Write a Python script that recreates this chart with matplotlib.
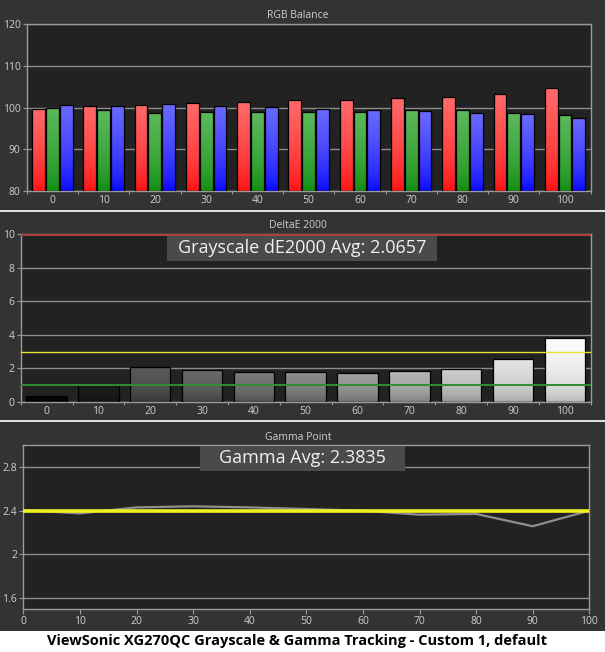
import numpy as np
import matplotlib
matplotlib.use("Agg")
import matplotlib.pyplot as plt
from matplotlib.patches import Rectangle
from matplotlib.lines import Line2D
from matplotlib.colors import to_rgb

# ---------------- data ----------------
levels = [0, 10, 20, 30, 40, 50, 60, 70, 80, 90, 100]
level_labels = [str(v) for v in levels]

red_vals = [99.76, 100.4, 100.63, 101.1, 101.42, 101.9, 101.9, 102.37, 102.6, 103.3, 104.74]
green_vals = [100.0, 99.29, 98.58, 98.81, 98.81, 98.97, 98.97, 99.29, 99.29, 98.74, 98.1]
blue_vals = [100.63, 100.4, 100.87, 100.4, 100.16, 99.53, 99.29, 99.05, 98.58, 98.34, 97.47]

de2000_vals = [0.33, 1.10, 2.11, 1.91, 1.81, 1.81, 1.75, 1.85, 1.99, 2.58, 3.82]
de_good = 1.0
de_warn = 3.0
de_max = 10.0

gamma_vals = [2.405, 2.375, 2.43, 2.44, 2.43, 2.415, 2.40, 2.363, 2.37, 2.257, 2.40]
gamma_target = 2.4

rgb_ticks = [80, 90, 100, 110, 120]
de_ticks = [0, 2, 4, 6, 8, 10]
gamma_ticks = [1.6, 2.0, 2.4, 2.8]
gamma_tick_labels = ["1.6", "2", "2.4", "2.8"]

de_avg_text = "Grayscale dE2000 Avg: 2.0657"
gamma_avg_text = "Gamma Avg: 2.3835"
titles = ["RGB Balance", "DeltaE 2000", "Gamma Point"]
caption = "ViewSonic XG270QC Grayscale & Gamma Tracking - Custom 1, default"

# ---------------- style ----------------
plt.rcParams['font.family'] = ['Open Sans', 'DejaVu Sans']
FIG_BG = '#333333'
AX_BG = '#222222'
GRID = '#8c8c8c'
SPINE = '#9a9a9a'
TXT = '#cfcfcf'
W, H = 605, 652

fig = plt.figure(figsize=(W / 100, H / 100), dpi=100)
fig.patch.set_facecolor(FIG_BG)


def frac_axes(l, t, r, b):
    return fig.add_axes([l / W, 1 - b / H, (r - l) / W, (b - t) / H])


def style_axes(ax):
    ax.set_facecolor(AX_BG)
    for s in ax.spines.values():
        s.set_color(SPINE)
        s.set_linewidth(1.0)
    ax.tick_params(colors=SPINE, labelcolor=TXT, labelsize=7.5, length=3, width=0.8, pad=1.5)


def gradient_bars(ax, x, heights, width, base, top_cols, bot_cols, power=1.0):
    hts = np.asarray(heights) - base
    bars = ax.bar(x, hts, width, bottom=base, facecolor='none',
                  edgecolor='black', linewidth=0.9, zorder=3)
    t = np.linspace(0, 1, 256)[:, None, None] ** power
    for b, tc, bc in zip(bars, top_cols, bot_cols):
        x0, y0, w, h = b.get_x(), b.get_y(), b.get_width(), b.get_height()
        tc_a = np.array(to_rgb(tc))[None, None, :]
        bc_a = np.array(to_rgb(bc))[None, None, :]
        img = bc_a * (1 - t) + tc_a * t
        im = ax.imshow(img, extent=[x0, x0 + w, y0, y0 + h], origin='lower',
                       aspect='auto', zorder=2.5, interpolation='bilinear')
        im.set_clip_path(b)
    return bars


n = len(levels)
xpos = np.arange(n)

# ---------------- panel 1: RGB balance ----------------
ax1 = frac_axes(26.7, 24, 590.7, 191)
style_axes(ax1)
off = 0.27
bw = 0.25
gradient_bars(ax1, xpos - off, red_vals, bw, 80, ['#ff6a6a'] * n, ['#ff0a0a'] * n, power=0.6)
gradient_bars(ax1, xpos, green_vals, bw, 80, ['#5cb85c'] * n, ['#0b8a0b'] * n, power=0.6)
gradient_bars(ax1, xpos + off, blue_vals, bw, 80, ['#6a6aff'] * n, ['#0000ff'] * n, power=0.6)
ax1.set_ylim(80, 120)
ax1.set_xlim(-0.5, n - 0.5)
ax1.set_yticks(rgb_ticks)
ax1.yaxis.grid(True, color=GRID, linewidth=1.0, zorder=1)
ax1.set_axisbelow(True)
ax1.set_xticks(np.arange(-0.5, n, 1.0))
ax1.set_xticklabels([])
ax1.set_xticks(xpos, minor=True)
ax1.set_xticklabels(level_labels, minor=True)
ax1.tick_params(axis='x', which='minor', length=0, pad=3, labelcolor=TXT, labelsize=7.5)
ax1.tick_params(axis='x', which='major', length=2.5)

# ---------------- panel 2: DeltaE 2000 ----------------
ax2 = frac_axes(20.7, 234, 590.7, 402)
style_axes(ax2)
gray_top = ['#050505', '#1c1c1c', '#5a5a5a', '#6a6a6a', '#7c7c7c', '#8e8e8e',
            '#a2a2a2', '#b8b8b8', '#cfcfcf', '#e6e6e6', '#ffffff']
gray_bot = ['#000000', '#101010', '#2a2a2a', '#303030', '#3c3c3c', '#4a4a4a',
            '#585858', '#686868', '#7a7a7a', '#8e8e8e', '#a0a0a0']
gradient_bars(ax2, xpos, de2000_vals, 0.78, 0, gray_top, gray_bot, power=0.35)
ax2.set_ylim(0, de_max)
ax2.set_xlim(-0.5, n - 0.5)
ax2.set_yticks(de_ticks)
ax2.yaxis.grid(True, color=GRID, linewidth=1.0, zorder=1)
ax2.set_axisbelow(True)
ax2.axhline(de_max, color='#b04040', linewidth=2.2, zorder=5)
ax2.axhline(de_warn, color='#e4e430', linewidth=1.0, zorder=5)
ax2.axhline(de_good, color='#2f8f2f', linewidth=1.4, zorder=5)
ax2.set_xticks(np.arange(-0.5, n, 1.0))
ax2.set_xticklabels([])
ax2.set_xticks(xpos, minor=True)
ax2.set_xticklabels(level_labels, minor=True)
ax2.tick_params(axis='x', which='minor', length=0, pad=3, labelcolor=TXT, labelsize=7.5)
ax2.tick_params(axis='x', which='major', length=2.5)

# ---------------- panel 3: Gamma ----------------
ax3 = frac_axes(23.3, 445.3, 589.3, 608.7)
style_axes(ax3)
ax3.set_xlim(0, 100)
ax3.set_ylim(1.5, 3.0)
ax3.set_yticks(gamma_ticks)
ax3.set_yticklabels(gamma_tick_labels)
ax3.set_xticks(levels)
ax3.set_xticklabels(level_labels)
ax3.yaxis.grid(True, color=GRID, linewidth=1.0, zorder=1)
ax3.set_axisbelow(True)
ax3.plot(levels, gamma_vals, color='#8e8e8e', linewidth=1.6, zorder=3)
ax3.axhline(gamma_target, color='#f0f020', linewidth=2.6, zorder=4)
ax3.tick_params(axis='x', length=3.5, pad=2)

# ---------------- titles, boxes, separators ----------------
for ttl, y in zip(titles, [15, 226, 437]):
    fig.text(298 / W, 1 - y / H, ttl, color=TXT, fontsize=7.5, ha='center', va='center')

for (l, t, r, b), txt, tx in [((167, 236, 437, 260.7), de_avg_text, 178),
                             ((200, 446, 405, 470.7), gamma_avg_text, 219.3)]:
    fig.add_artist(Rectangle((l / W, 1 - b / H), (r - l) / W, (b - t) / H,
                             transform=fig.transFigure, facecolor='#4a4a4a',
                             edgecolor='none', zorder=10))
    fig.text(tx / W, 1 - ((t + b) / 2) / H, txt, color='#f0f0f0', fontsize=13,
             ha='left', va='center', zorder=11)

for y in [210.5, 421]:
    fig.add_artist(Line2D([0, 1], [1 - y / H, 1 - y / H], transform=fig.transFigure,
                          color='#f2f2f2', linewidth=1.3, zorder=10))

fig.add_artist(Rectangle((0, 0), 1, (H - 630.5) / H, transform=fig.transFigure,
                         facecolor='white', edgecolor='none', zorder=10))
fig.text(297 / W, 1 - 641 / H, caption, color='black', fontsize=10.5,
         fontweight='bold', ha='center', va='center', zorder=11)

fig.savefig('out.png', dpi=100, facecolor=fig.get_facecolor())
